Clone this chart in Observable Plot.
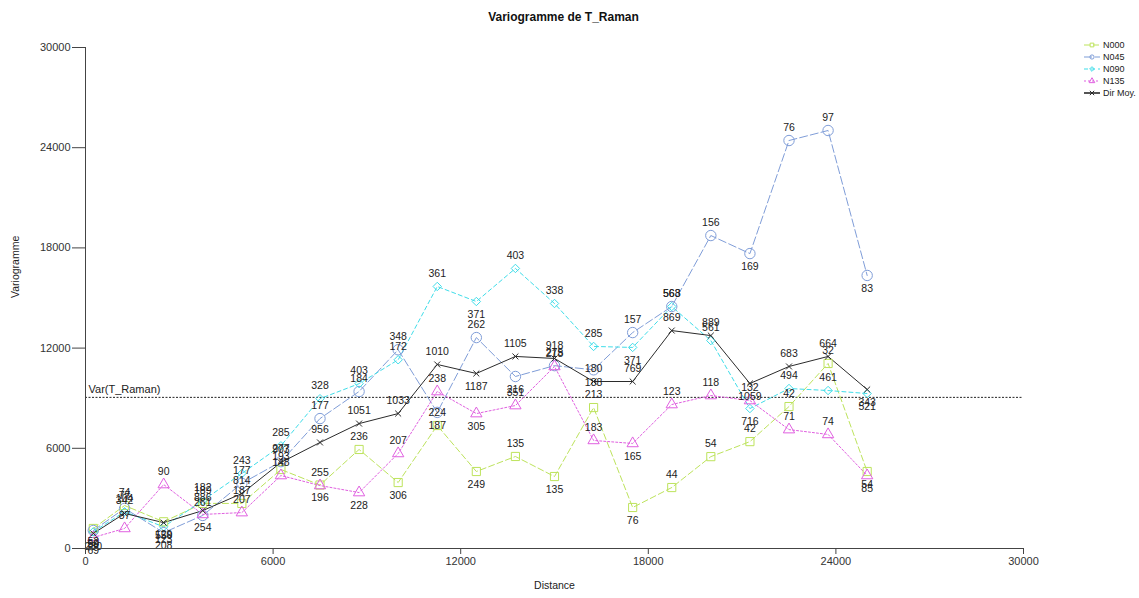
<!DOCTYPE html>
<html><head><meta charset="utf-8">
<script src="https://cdn.jsdelivr.net/npm/d3@7"></script>
<script src="https://cdn.jsdelivr.net/npm/@observablehq/plot@0.6"></script>
<style>
body{margin:0;background:#fff;}
#wrap{position:relative;width:1139px;height:598px;font-family:"Liberation Sans",Arial,sans-serif;}
#legend{position:absolute;left:1083px;top:39px;}
</style></head><body><div id="wrap"><div id="legend"></div></div>
<script>
// ---- data ----
const lags = [250,1250,2500,3750,5000,6250,7500,8750,10000,11250,12500,13750,15000,16250,17500,18750,20000,21250,22500,23750,25000];
const n000 = [1200,2575,1600,2700,2700,4730,3800,5930,3950,7365,4610,5510,4310,8440,2455,3650,5500,6400,8500,11080,4610];
const n045 = [1080,2400,950,1980,3900,5200,7780,9400,11900,8150,12630,10300,10950,10700,12930,14490,18740,17660,24430,25030,16350];
const n090 = [1000,2200,1300,2870,4490,6150,8970,9870,11300,15690,14790,16770,14670,12100,12040,14490,12450,8380,9580,9460,9280];
const n135 = [660,1200,3830,2040,2150,4370,3770,3350,5690,9400,8080,8560,10900,6470,6290,8620,9160,8860,7120,6830,4370];
const dirMoy = [900,2100,1550,2270,3290,5150,6350,7480,8080,11020,10480,11500,11380,10000,10000,13050,12750,9880,10900,11500,9520];
const c000 = [52,74,129,189,187,193,196,236,306,224,249,135,135,213,76,44,54,42,42,32,54];
const c045 = [59,77,208,261,177,277,177,184,348,187,262,216,275,188,157,563,156,169,76,97,83];
const c090 = [50,104,123,182,243,285,328,403,172,361,371,403,338,285,371,568,561,716,494,461,521];
const c135 = [69,87,90,254,207,148,255,228,207,238,305,351,218,183,165,123,118,132,71,74,85];
const cDir = [230,342,550,886,814,903,956,1051,1033,1010,1187,1105,918,180,769,869,889,1059,683,664,343];
const seriesNames = ["N000","N045","N090","N135","Dir Moy."];
const varValue = 9050;
const varLabel = "Var(T_Raman)";
const xTicks = [0,6000,12000,18000,24000,30000];
const yTicks = [0,6000,12000,18000,24000,30000];

// ---- styles ----
const seriesValues = [n000,n045,n090,n135,dirMoy];
const seriesCounts = [c000,c045,c090,c135,cDir];
const colors = ["#bde35c","#7f9dd8","#3fdde9","#e060e0","#2b2b2b"];
const dashes = ["6,3","8,3","4,3","2,2",null];
const symbols = ["square","circle","diamond2","triangle","times"];
const radii = [4.6,5.2,3.8,4.2,2.8];

const marks = [];
marks.push(Plot.ruleY([varValue], {x1: 0, x2: 30000, stroke: "#222", strokeWidth: 1, strokeDasharray: "2,1.5"}));
marks.push(Plot.text([varLabel], {x: 0, y: varValue, dx: 3, dy: -8, textAnchor: "start", fontSize: 11, fill: "#222"}));

const allRows = seriesNames.map((name, s) => {
  const vals = seriesValues[s];
  return lags.map((x, i) => {
    const prev = i > 0 ? vals[i-1] : Infinity;
    const next = i < vals.length - 1 ? vals[i+1] : Infinity;
    return {series: name, x, y: vals[i], n: String(seriesCounts[s][i]), below: vals[i] < prev && vals[i] < next};
  });
});

allRows.forEach((rows, s) => {
  marks.push(Plot.line(rows, {x: "x", y: "y", stroke: colors[s], strokeWidth: 1, strokeDasharray: dashes[s]}));
});
allRows.forEach((rows, s) => {
  marks.push(Plot.dot(rows, {x: "x", y: "y", symbol: symbols[s], r: radii[s], stroke: colors[s], fill: "none", strokeWidth: 1}));
});
allRows.forEach((rows, s) => {
  marks.push(Plot.text(rows.filter(d => !d.below), {x: "x", y: "y", text: d => d.n, dy: -13, fontSize: 10.5, fill: "#222"}));
  marks.push(Plot.text(rows.filter(d => d.below), {x: "x", y: "y", text: d => d.n, dy: 13, fontSize: 10.5, fill: "#222"}));
});

marks.push(Plot.ruleX([0], {y1: 0, y2: 30000, stroke: "#444"}));
marks.push(Plot.ruleY([0], {x1: 0, x2: 30000, stroke: "#444"}));
marks.push(Plot.axisX({ticks: xTicks, tickSize: 6, tickPadding: 3, tickFormat: d => String(d), label: null, fontSize: 11, stroke: "#444", color: "#333"}));
marks.push(Plot.axisY({ticks: yTicks, tickSize: 13, tickPadding: 2, tickFormat: d => String(d), label: null, fontSize: 11, stroke: "#444", color: "#333"}));
marks.push(Plot.text(["Distance"], {frameAnchor: "bottom", dy: 40, fontSize: 10.5, fill: "#222"}));
marks.push(Plot.text(["Variogramme"], {frameAnchor: "left", dx: -70, rotate: -90, fontSize: 10.5, fill: "#222"}));
marks.push(Plot.text(["Variogramme de T_Raman"], {frameAnchor: "top", dy: -35, dx: 9, fontSize: 12, fontWeight: "bold", fill: "#111"}));

const chart = Plot.plot({
  width: 1139, height: 598,
  marginLeft: 85, marginRight: 116, marginTop: 47, marginBottom: 50,
  x: {domain: [0, 30000]},
  y: {domain: [0, 30000]},
  style: {fontFamily: "'Liberation Sans', Arial, sans-serif", background: "#fff"},
  marks
});
document.getElementById("wrap").prepend(chart);

// ---- legend ----
const lg = d3.select("#legend").append("svg").attr("width", 56).attr("height", 64)
  .style("font-family", "'Liberation Sans', Arial, sans-serif").style("font-size", "9px");
seriesNames.forEach((name, s) => {
  const g = lg.append("g").attr("transform", `translate(0,${6 + s * 12})`);
  g.append("line").attr("x1", 1).attr("x2", 17).attr("y1", 0).attr("y2", 0)
    .attr("stroke", colors[s]).attr("stroke-width", s === 4 ? 1.6 : 1.2).attr("stroke-dasharray", dashes[s]);
  const symMap = {square: d3.symbolSquare, circle: d3.symbolCircle, diamond2: d3.symbolDiamond2, triangle: d3.symbolTriangle, times: d3.symbolTimes};
  g.append("path").attr("d", d3.symbol(symMap[symbols[s]], 14)()).attr("transform", "translate(9,0)")
    .attr("fill", "none").attr("stroke", colors[s]);
  g.append("text").attr("x", 20).attr("y", 3).attr("fill", "#222").text(name);
});
</script></body></html>
